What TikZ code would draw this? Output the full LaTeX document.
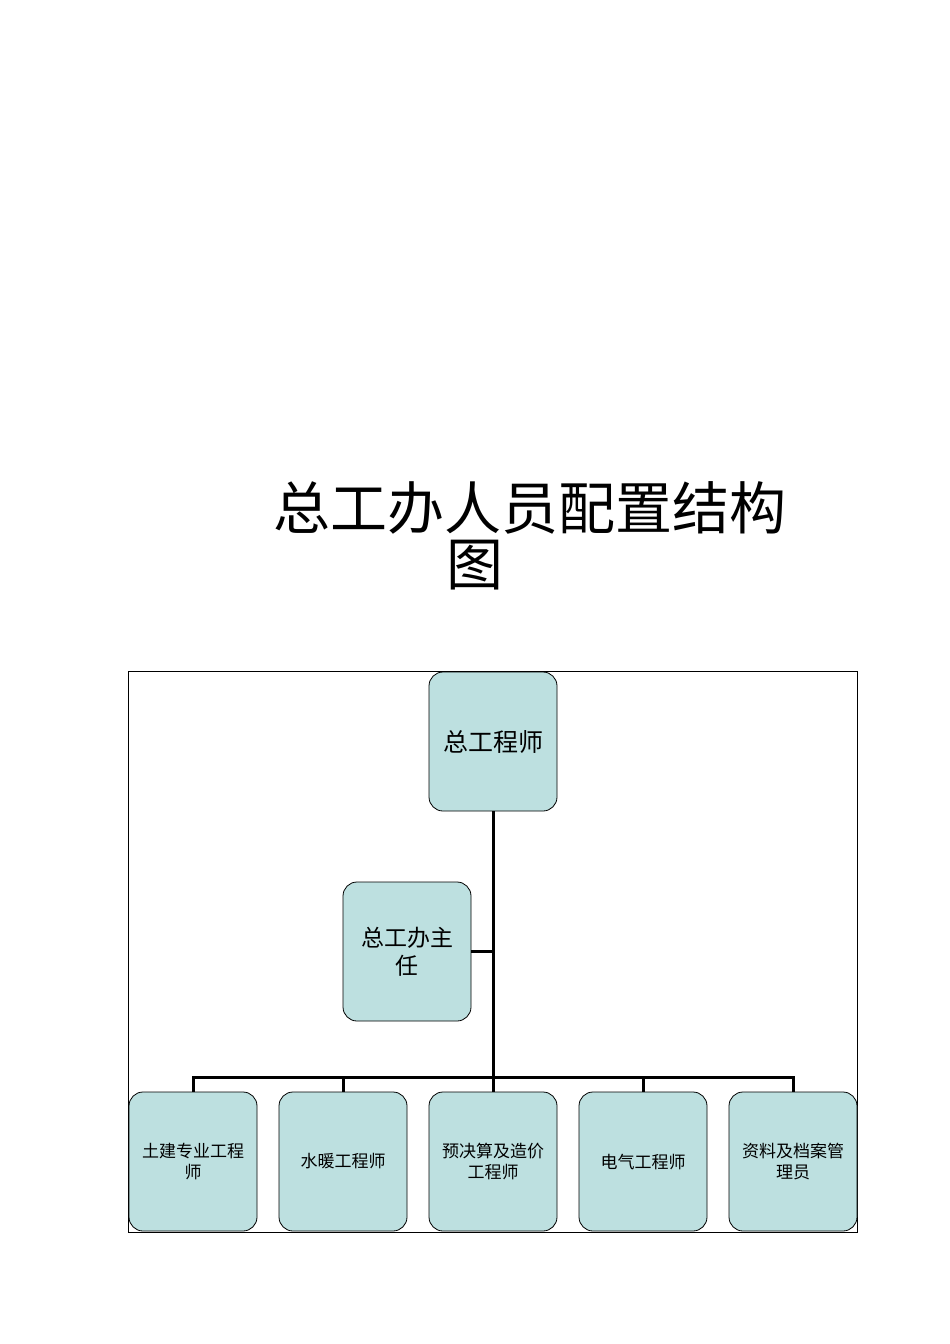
\documentclass[tikz,border=0pt]{standalone}
\usepackage{fontspec}
\newfontfamily\cjk{Noto Sans CJK SC}
\begin{document}
\begin{tikzpicture}[x=1pt,y=-1pt,
  box/.style={draw=black,line width=0.8pt,fill={rgb,255:red,189;green,224;blue,224},rounded corners=14pt,minimum width=128pt,minimum height=139pt,inner sep=2pt,align=center,font=\cjk\fontsize{17}{21}\selectfont},
  link/.style={line width=3pt}]
\useasboundingbox (0,0) rectangle (950,1344);
\node[font=\cjk\fontsize{57}{60}\selectfont,anchor=west] (t1) at (270,508) {总工办人员配置结构};
\node[font=\cjk\fontsize{57}{60}\selectfont] (t2) at (475,565) {图};
\draw (128,671) rectangle (857,1232);
\node[box,font=\cjk\fontsize{25}{28}\selectfont] (top) at (493,741.5) {总工程师};
\node[box,font=\cjk\fontsize{23}{28}\selectfont] (ast) at (407,951.5) {总工办主\\任};
\node[box] (b1) at (193,1161.5) {土建专业工程\\师};
\node[box] (b2) at (343,1161.5) {水暖工程师};
\node[box] (b3) at (493,1161.5) {预决算及造价\\工程师};
\node[box] (b4) at (643,1161.5) {电气工程师};
\node[box] (b5) at (793,1161.5) {资料及档案管\\理员};
\coordinate (bus) at (493,1077);
\draw[link] (top.south) -- (bus);
\draw[link] (ast.east) -- (ast.east -| top.south);
\draw[link] (b1.north) |- (bus) -| (b5.north);
\foreach \n in {b2,b3,b4} \draw[link] (\n.north) -- (\n.north |- bus);
\end{tikzpicture}
\end{document}
